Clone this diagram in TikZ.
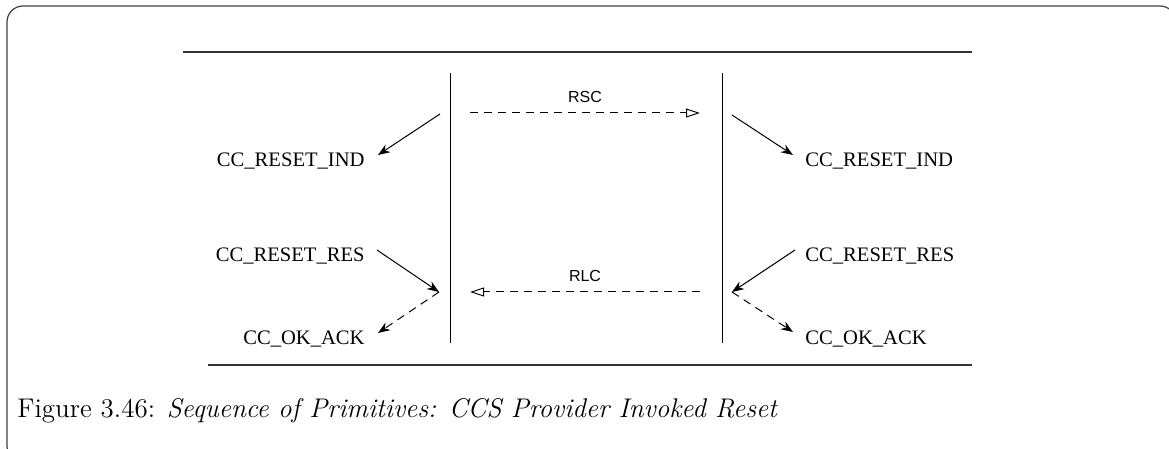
\documentclass[tikz,border=0pt]{standalone}
\usepackage{fontspec}
\newfontfamily\timesfont{Liberation Serif}
\newfontfamily\arialfont{Liberation Sans}
\usetikzlibrary{arrows.meta, positioning, calc}

\begin{document}
\begin{tikzpicture}[x=0.5pt, y=-0.5pt,
      prim/.style={font=\timesfont\fontsize{10.3}{12}\selectfont, inner sep=0pt},
      msg/.style={font=\arialfont\fontsize{8}{10}\selectfont, inner sep=0pt},
      call/.style={-{Stealth[length=6pt, width=4.5pt]}, line width=0.5pt},
      conf/.style={call, dash pattern=on 4pt off 3pt},
      signal/.style={line width=0.5pt, dash pattern=on 4pt off 3pt,
        -{Triangle[open, length=7pt, width=4.5pt]}},
      rule/.style={line width=0.6pt, draw=black!80},
      >=Latex
    ]
      \useasboundingbox[clip] (0,0) rectangle (1169,449);
      % frame and rules
      \draw[line width=0.6pt, draw=black!75, rounded corners=8pt] (7,6) rectangle (1176,462);
      \draw[rule] (183,52) -- (972,52);
      \draw[rule] (208,365) -- (972,365);

      % lifelines
      \coordinate (lefttop) at (450,73);
      \coordinate (leftbot) at (450,343);
      \coordinate (righttop) at (722,73);
      \coordinate (rightbot) at (722,343);
      \draw[line width=0.5pt] (lefttop) -- (leftbot);
      \draw[line width=0.5pt] (righttop) -- (rightbot);

      % primitives
      \node[prim, anchor=base east] (indL) at (365,167) {CC\_RESET\_IND};
      \node[prim, anchor=base east] (resL) at (365,262) {CC\_RESET\_RES};
      \node[prim, anchor=base east] (ackL) at (365,344) {CC\_OK\_ACK};
      \node[prim, anchor=base west] (indR) at (805,167) {CC\_RESET\_IND};
      \node[prim, anchor=base west] (resR) at (805,262) {CC\_RESET\_RES};
      \node[prim, anchor=base west] (ackR) at (805,344) {CC\_OK\_ACK};

      \coordinate (indLs) at (440,114);
      \coordinate (indRs) at (732,115);
      \coordinate (resLe) at (439,292);
      \coordinate (resRe) at (732,292);

      \draw[call] (indLs) -- (378,155);
      \draw[call] (indRs) -- (793,155);
      \draw[call] (377,250) -- (resLe);
      \draw[call] (795,250) -- (resRe);
      \draw[conf] (resLe) -- (378,333);
      \draw[conf] (resRe) -- (793,332);

      % messages
      \coordinate (rscA) at (470,113);
      \coordinate (rscB) at (700,113);
      \coordinate (rlcA) at (700,292);
      \coordinate (rlcB) at (470,292);
      \draw[signal] (rscA) -- (rscB);
      \draw[signal] (rlcA) -- (rlcB);
      \node[msg, anchor=base] (rsc) at (585,103) {RSC};
      \node[msg, anchor=base] (rlc) at (585,282) {RLC};

      % caption
      \node[anchor=base west, inner sep=0pt, font=\fontsize{13.5}{16}\selectfont] (cap) at (17,417)
        {Figure 3.46: \textit{Sequence of Primitives: CCS Provider Invoked Reset}};
    \end{tikzpicture}
\end{document}
